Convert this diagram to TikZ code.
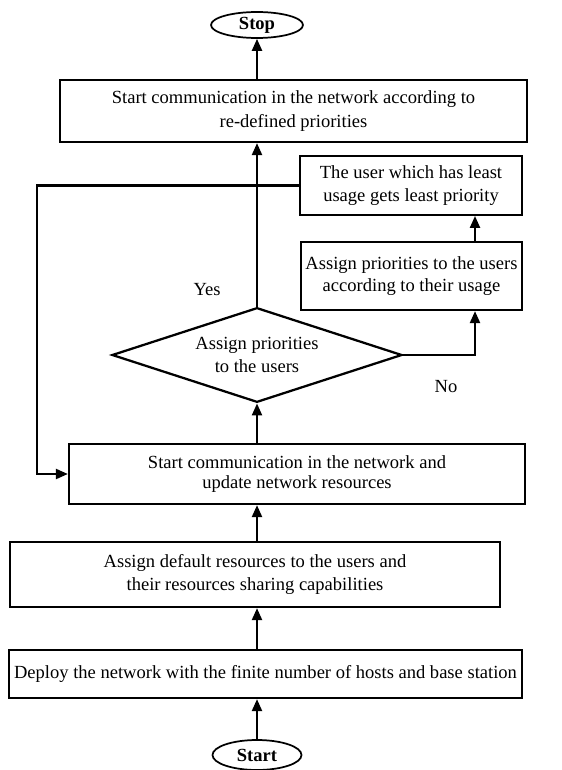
\documentclass[tikz,border=0pt]{standalone}
\usepackage{fontspec}
\setmainfont{Liberation Serif}
\usetikzlibrary{shapes.geometric, arrows.meta}

\tikzset{
  flowbox/.style={draw, line width=1.7pt, fill=white, align=center,
    inner sep=2pt},
  termin/.style={draw, ellipse, line width=1.3pt, inner sep=0pt},
  decide/.style={draw, diamond, shape aspect=3, line width=1.7pt, align=center,
    inner sep=0pt, minimum width=217.5pt, minimum height=71pt},
  arr/.style={-{Triangle[length=9pt,width=7.5pt]}, line width=1.7pt},
  flowtext/.style={font=\fontsize{13.9}{17}\selectfont}
}

\begin{document}
\begin{tikzpicture}[x=0.75pt, y=-0.75pt, every node/.style={flowtext}]
    \useasboundingbox (0,0) rectangle (561,770);
    % terminals
    \node[termin, minimum width=69pt, minimum height=19.5pt] (stop) at (257,25) {\textbf{Stop}};
    \node[termin, minimum width=66.75pt, minimum height=22.5pt] (start) at (257,755) {\textbf{Start}};
    % boxes
    \node[flowbox, minimum width=350pt, minimum height=46.5pt] (redef) at (293.5,111)
        {Start communication in the network according to\\[1pt] re-defined priorities};
    \node[flowbox, minimum width=166.5pt, minimum height=44pt] (least) at (411,185.5)
        {The user which has least\\ usage gets least priority};
    \node[flowbox, minimum width=166pt, minimum height=51pt] (usage) at (411.5,276)
        {Assign priorities to the users\\ according to their usage};
    \node[decide] (prio) at (257,355) {Assign priorities\\ to the users};
    \node[flowbox, minimum width=342pt, minimum height=45pt] (comm) at (297,474)
        {Start communication in the network and\\[-2pt] update network resources};
    \node[flowbox, minimum width=367.5pt, minimum height=48.75pt] (dflt) at (255,574.5)
        {Assign default resources to the users and\\ their resources sharing capabilities};
    \node[flowbox, minimum width=384.75pt, minimum height=36pt] (deploy) at (265.5,674)
        {Deploy the network with the finite number of hosts and base station};
    % labels
    \node (yes) at (207,290) {Yes};
    \node (no) at (446,387) {No};
    % helper points
    \coordinate (turn) at (475,355);
    \coordinate (fb) at (37,474);
    % connectors
    \draw[arr] (start.north) -- (start.north |- deploy.south);
    \draw[arr] (start.north |- deploy.north) -- (start.north |- dflt.south);
    \draw[arr] (start.north |- dflt.north) -- (start.north |- comm.south);
    \draw[arr] (start.north |- comm.north) -- (prio.south);
    \draw[arr] (prio.north) -- (prio.north |- redef.south);
    \draw[arr] (stop.south |- redef.north) -- (stop.south);
    \draw[arr] (prio.east) -| (turn |- usage.south);
    \draw[arr] (turn |- usage.north) -- (turn |- least.south);
    \draw[arr] (least.west) -| (fb) -- (comm.west);
\end{tikzpicture}
\end{document}
